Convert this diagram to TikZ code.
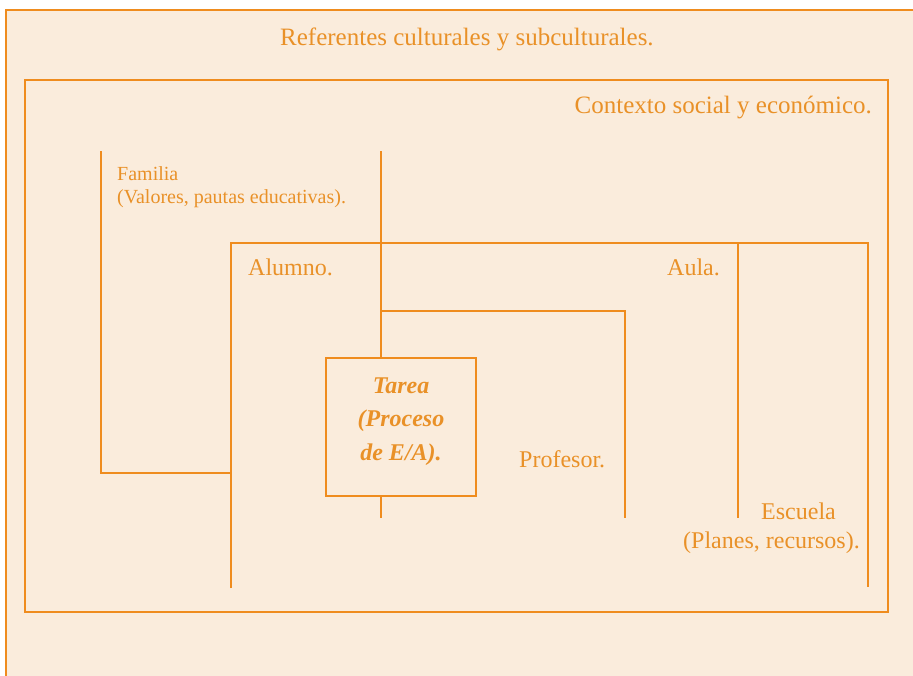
\documentclass[tikz,border=0pt]{standalone}
\usepackage{fontspec}
\setmainfont{Liberation Serif}
\definecolor{bg}{RGB}{250,236,220}
\definecolor{ln}{RGB}{239,140,30}
\definecolor{tx}{RGB}{233,145,40}
\begin{document}
\begin{tikzpicture}[x=1pt,y=-1pt,
  frame/.style={draw=ln,line width=2pt},
  thin/.style={draw=ln,line width=1.6pt},
  lbl/.style={text=tx,inner sep=0pt,anchor=base west},
  lblr/.style={text=tx,inner sep=0pt,anchor=base east},
  big/.style={font=\fontsize{25}{30}\selectfont},
  mid/.style={font=\fontsize{24}{29}\selectfont},
  small/.style={font=\fontsize{20}{24}\selectfont},
  tarea/.style={text=tx,inner sep=0pt,anchor=base,font=\fontsize{24}{29}\selectfont\bfseries\itshape}]
\useasboundingbox (0,0) rectangle (913,675);
\fill[white] (0,0) rectangle (913,675);
\fill[bg] (6,10) rectangle (930,690);
\draw[frame] (6,690) -- (6,10) -- (930,10);
% Contexto
\draw[frame] (25,80) rectangle (888,612);
% Familia bracket
\draw[thin] (101,151) -- (101,473) -- (231,473);
% central vertical
\draw[thin] (381,151) -- (381,518);
% Alumno / Aula bracket
\draw[frame] (231,588) -- (231,243) -- (868,243) -- (868,587);
% Escuela divider
\draw[thin] (738,243) -- (738,518);
% Profesor bracket
\draw[thin] (381,311) -- (625,311) -- (625,518);
% Tarea box
\node[fill=bg,draw=ln,line width=2pt,minimum width=150pt,minimum height=138pt,inner sep=0pt] (tbox) at (401,427) {};
% texts
\node[lbl,big] (ref) at (280,45) {Referentes culturales y subculturales.};
\node[lblr,big] (ctx) at (872,113) {Contexto social y económico.};
\node[lbl,small] (fam) at (117,180) {Familia};
\node[lbl,small] (fam2) at (117,203) {(Valores, pautas educativas).};
\node[lbl,mid] (alu) at (248,275) {Alumno.};
\node[lbl,mid] (aula) at (667,275) {Aula.};
\node[lbl,mid] (prof) at (519,467) {Profesor.};
\node[lbl,mid] (esc) at (761,519) {Escuela};
\node[lbl,mid] (esc2) at (683,548) {(Planes, recursos).};
\node[tarea] (t1) at (401,393) {Tarea};
\node[tarea] (t2) at (401,426) {(Proceso};
\node[tarea] (t3) at (401,460) {de E/A).};
\end{tikzpicture}
\end{document}
